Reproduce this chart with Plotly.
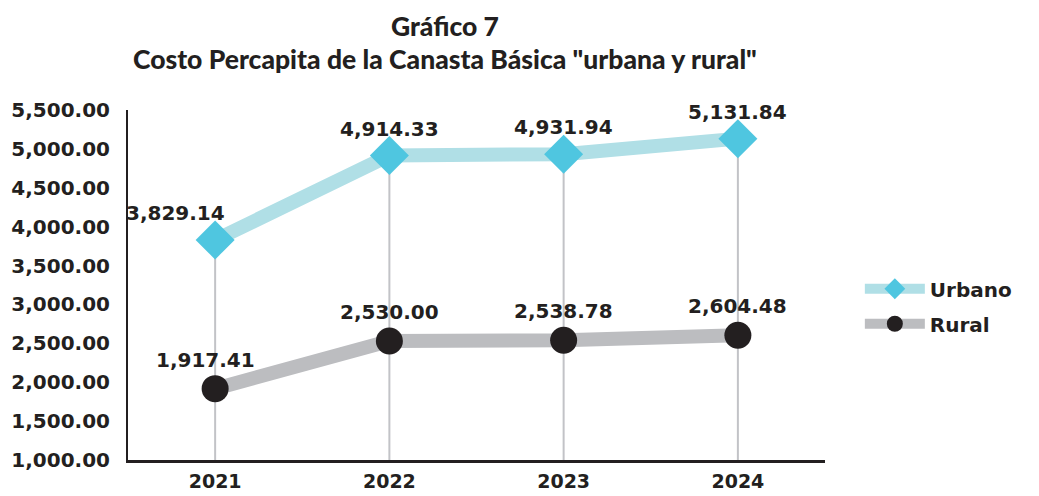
import plotly.graph_objects as go

years = ["2021", "2022", "2023", "2024"]
urbano = [3829.14, 4914.33, 4931.94, 5131.84]
rural = [1917.41, 2530.00, 2538.78, 2604.48]
y_ticks = [1000, 1500, 2000, 2500, 3000, 3500, 4000, 4500, 5000, 5500]

Y_MIN, Y_MAX = 1000, 5500
FONT_NUM = "DejaVu Sans"
TXT = "#231f20"

fig = go.Figure()

# drop lines from the urban points down to the x axis
dx, dy = [], []
for yr, u in zip(years, urbano):
    dx += [yr, yr, None]
    dy += [Y_MIN, u, None]
fig.add_trace(go.Scatter(x=dx, y=dy, mode="lines", line=dict(color="#c2c3c7", width=2),
                         showlegend=False, hoverinfo="skip"))

fig.add_trace(go.Scatter(x=years, y=urbano, name="Urbano", mode="lines+markers",
                         legendgroup="u",
                         line=dict(color="#b0dfe6", width=14),
                         marker=dict(symbol="diamond", size=30, color="#4fc6e0",
                                     line=dict(width=0))))
fig.add_trace(go.Scatter(x=years, y=rural, name="Rural", mode="lines+markers",
                         legendgroup="r",
                         line=dict(color="#bcbdc0", width=14),
                         marker=dict(symbol="circle", size=27, color=TXT,
                                     line=dict(width=0))))

def fmt(v):
    return f"{v:,.2f}"

u_xshift = [-40, 0, 0, 0]
r_xshift = [-10, 0, 0, 0]
for i in range(len(years)):
    fig.add_annotation(x=i, y=urbano[i], text=fmt(urbano[i]), showarrow=False,
                       yshift=27, xshift=u_xshift[i],
                       font=dict(family=FONT_NUM, size=20, color=TXT, weight="bold"))
    fig.add_annotation(x=i, y=rural[i], text=fmt(rural[i]), showarrow=False,
                       yshift=29, xshift=r_xshift[i],
                       font=dict(family=FONT_NUM, size=20, color=TXT, weight="bold"))

fig.add_annotation(xref="paper", yref="paper", x=0.455, y=1.0, yshift=84, yanchor="middle",
                   text="Gráfico 7", showarrow=False,
                   font=dict(family="Lato", size=26.5, color=TXT, weight=900))
fig.add_annotation(xref="paper", yref="paper", x=0.455, y=1.0, yshift=51, yanchor="middle",
                   text='Costo Percapita de la Canasta Básica "urbana y rural"', showarrow=False,
                   font=dict(family="Lato", size=26.5, color=TXT, weight=900))

fig.update_layout(
    width=1031, height=488,
    margin=dict(l=120, r=214, t=102, b=36),
    paper_bgcolor="white", plot_bgcolor="white",
    showlegend=True,
    legend=dict(x=1.05, y=0.545, xanchor="left", yanchor="top",
                font=dict(family=FONT_NUM, size=20, color=TXT, weight="bold"),
                itemwidth=60, tracegroupgap=6, traceorder="grouped",
                bgcolor="rgba(0,0,0,0)"),
    xaxis=dict(type="category", range=[-0.5, 3.5], showgrid=False, showline=True,
               linecolor=TXT, linewidth=2.5, ticks="", automargin=False,
               ticklabelstandoff=2,
               tickfont=dict(family=FONT_NUM, size=19, color=TXT, weight="bold"),
               zeroline=False, fixedrange=True),
    yaxis=dict(range=[Y_MIN, Y_MAX], tickvals=y_ticks,
               ticktext=[f"{v:,.2f}" for v in y_ticks],
               showgrid=False, showline=True, linecolor=TXT, linewidth=2,
               ticks="", ticklabelstandoff=12, zeroline=False, automargin=False,
               tickfont=dict(family=FONT_NUM, size=20, color=TXT, weight="bold")),
)

fig.write_html("out.html")
